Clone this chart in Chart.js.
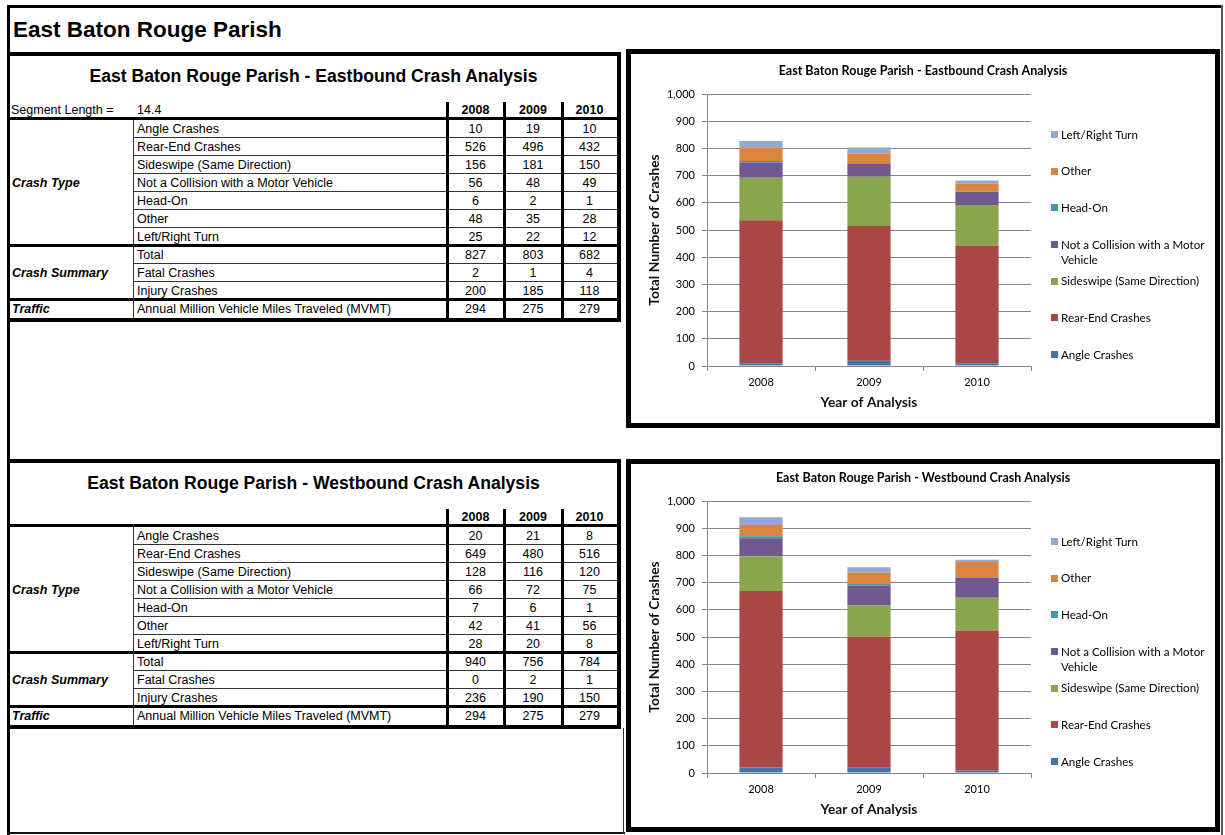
<!DOCTYPE html>
<html>
<head>
<meta charset="utf-8">
<title>East Baton Rouge Parish</title>
<script src="https://cdn.jsdelivr.net/npm/chart.js@4.4.1/dist/chart.umd.min.js"></script>
<style>
  html, body { margin: 0; padding: 0; }
  body {
    width: 1225px; height: 835px; position: relative; overflow: hidden;
    background: #fff; color: #000;
    font-family: "Liberation Sans", Arial, sans-serif; font-size: 12.5px;
  }
  .abs { position: absolute; white-space: nowrap; }
  canvas { position: absolute; }
</style>
</head>
<body>
<canvas id="ebChart" width="584" height="369" style="left:631px;top:54px"></canvas>
<canvas id="wbChart" width="584" height="369" style="left:631px;top:461px"></canvas>
<script>
const years = ['2008', '2009', '2010'];
const crashTypes = ['Angle Crashes', 'Rear-End Crashes', 'Sideswipe (Same Direction)',
  'Not a Collision with a Motor Vehicle', 'Head-On', 'Other', 'Left/Right Turn'];
const tableTypeLabels = ['Angle Crashes', 'Rear-End Crashes', 'Sideswipe (Same Direction)',
  'Not a Collision with a Motor Vehicle', 'Head-On', 'Other', 'Left/Right Turn'];
const summaryLabels = ['Total', 'Fatal Crashes', 'Injury Crashes'];
const trafficLabel = 'Annual Million Vehicle Miles Traveled (MVMT)';
const segmentLength = '14.4';
const typeColors = ['#4572A7', '#AA4643', '#89A54E', '#71588F', '#4198AF', '#DB843D', '#93A9CF'];
const yMax = 1000;
const yStep = 100;

// Eastbound
const ebAngle = [10, 19, 10];
const ebRearEnd = [526, 496, 432];
const ebSideswipe = [156, 181, 150];
const ebNotCollision = [56, 48, 49];
const ebHeadOn = [6, 2, 1];
const ebOther = [48, 35, 28];
const ebTurn = [25, 22, 12];
const ebTotal = [827, 803, 682];
const ebFatal = [2, 1, 4];
const ebInjury = [200, 185, 118];
const ebMvmt = [294, 275, 279];

// Westbound
const wbAngle = [20, 21, 8];
const wbRearEnd = [649, 480, 516];
const wbSideswipe = [128, 116, 120];
const wbNotCollision = [66, 72, 75];
const wbHeadOn = [7, 6, 1];
const wbOther = [42, 41, 56];
const wbTurn = [28, 20, 8];
const wbTotal = [940, 756, 784];
const wbFatal = [0, 2, 1];
const wbInjury = [236, 190, 150];
const wbMvmt = [294, 275, 279];

const ebTypes = [ebAngle, ebRearEnd, ebSideswipe, ebNotCollision, ebHeadOn, ebOther, ebTurn];
const wbTypes = [wbAngle, wbRearEnd, wbSideswipe, wbNotCollision, wbHeadOn, wbOther, wbTurn];

const px = v => v + 'px';

function addDiv(styles, text) {
  const d = document.createElement('div');
  d.className = 'abs';
  Object.assign(d.style, styles);
  if (text !== undefined) d.textContent = text;
  document.body.appendChild(d);
  return d;
}

// page frame + title
addDiv({ left: '7px', top: '5px', width: '1216px', height: '3px', background: '#000' });
addDiv({ left: '7px', top: '5px', width: '3px', height: '830px', background: '#000' });
addDiv({ left: '1221px', top: '5px', width: '2px', height: '830px', background: '#555' });
addDiv({ left: '7px', top: '832px', width: '618px', height: '2px', background: '#111' });
addDiv({ left: '623px', top: '728px', width: '1px', height: '106px', background: '#333' });
addDiv({ left: '13px', top: '17px', lineHeight: '26px', font: 'bold 22.5px "Liberation Sans", Arial, sans-serif' },
  'East Baton Rouge Parish');

// chart frames
addDiv({ left: '626px', top: '49px', width: '594px', height: '379px', border: '5px solid #000', boxSizing: 'border-box' });
addDiv({ left: '626px', top: '459px', width: '594px', height: '373px', border: '5px solid #000', boxSizing: 'border-box' });

function buildTable(top, title, segment, typeVals, summaryVals, mvmt) {
  const cols = [10, 133, 447, 504, 562, 617];
  const rowH = 18;
  const bodyTop = top + 68;
  const bottom = bodyTop + 11 * rowH;

  addDiv({ left: '7px', top: px(top), width: '614px', height: px(bottom + 4 - top),
    borderStyle: 'solid', borderColor: '#000', borderWidth: '4px 4px 4px 3px', boxSizing: 'border-box' });
  addDiv({ left: '10px', width: '607px', top: px(top + 14), lineHeight: '22px', textAlign: 'center',
    font: 'bold 17.6px "Liberation Sans", Arial, sans-serif' }, title);

  // header
  if (segment) {
    addDiv({ left: '11px', top: px(top + 50), lineHeight: '16px' }, 'Segment Length =');
    addDiv({ left: '137px', top: px(top + 50), lineHeight: '16px' }, segment);
  }
  years.forEach((y, j) => {
    addDiv({ left: px(cols[2 + j]), width: px(cols[3 + j] - cols[2 + j]), top: px(top + 50),
      lineHeight: '16px', textAlign: 'center', fontWeight: 'bold' }, y);
  });
  addDiv({ left: '10px', width: '607px', top: px(bodyTop - 3), height: '3px', background: '#000' });

  const rows = tableTypeLabels.map((t, i) => [t, typeVals[i]])
    .concat(summaryLabels.map((t, i) => [t, summaryVals[i]]))
    .concat([[trafficLabel, mvmt]]);

  rows.forEach((r, i) => {
    const y = bodyTop + i * rowH;
    addDiv({ left: '137px', top: px(y), lineHeight: px(rowH) }, r[0]);
    r[1].forEach((v, j) => {
      addDiv({ left: px(cols[2 + j]), width: px(cols[3 + j] - cols[2 + j]), top: px(y),
        lineHeight: px(rowH), textAlign: 'center' }, String(v));
    });
    if (i === 6 || i === 9) {
      addDiv({ left: '10px', width: '607px', top: px(y + rowH - 2), height: '3px', background: '#000' });
    } else if (i < 10) {
      addDiv({ left: '133px', width: '484px', top: px(y + rowH - 1), height: '1px', background: '#333' });
    }
  });

  addDiv({ left: '133px', width: '1px', top: px(bodyTop), height: px(bottom - bodyTop), background: '#333' });
  [2, 3, 4].forEach(c => {
    addDiv({ left: px(cols[c] - 1), width: '3px', top: px(top + 50), height: px(bottom - top - 50), background: '#000' });
  });

  const groups = [['Crash Type', 0, 7], ['Crash Summary', 7, 3], ['Traffic', 10, 1]];
  groups.forEach(g => {
    const cy = bodyTop + (g[1] + g[2] / 2) * rowH;
    addDiv({ left: '12px', top: px(cy - 9), lineHeight: '18px', fontWeight: 'bold', fontStyle: 'italic' }, g[0]);
  });
}

buildTable(52, 'East Baton Rouge Parish - Eastbound Crash Analysis', segmentLength,
  ebTypes, [ebTotal, ebFatal, ebInjury], ebMvmt);
buildTable(459, 'East Baton Rouge Parish - Westbound Crash Analysis', null,
  wbTypes, [wbTotal, wbFatal, wbInjury], wbMvmt);

// title + wrapped legend drawn on the canvas
const overlayPlugin = {
  id: 'overlay',
  afterDraw(chart, args, opts) {
    const { ctx, chartArea } = chart;
    ctx.save();
    ctx.fillStyle = '#000';
    ctx.font = 'bold 12.5px Lato';
    ctx.textAlign = 'center';
    ctx.textBaseline = 'middle';
    ctx.fillText(opts.title, chart.width / 2, 17);

    const items = chart.data.datasets.map(d => ({ label: d.label, color: d.backgroundColor })).reverse();
    const x0 = chartArea.right + 20;
    const first = chartArea.top + 41;
    const gap = (chartArea.bottom - 11 - first) / (items.length - 1);
    const maxW = chart.width - x0 - 10;
    ctx.font = '11.6px Lato';
    ctx.textAlign = 'left';
    items.forEach((it, k) => {
      const y = first + k * gap;
      ctx.fillStyle = it.color;
      ctx.fillRect(x0, Math.round(y - 4), 7, 7);
      ctx.fillStyle = '#000';
      const words = it.label.split(' ');
      const lines = [];
      let line = '';
      words.forEach(w => {
        const test = line ? line + ' ' + w : w;
        if (line && ctx.measureText(test).width > maxW) { lines.push(line); line = w; }
        else line = test;
      });
      lines.push(line);
      lines.forEach((ln, j) => ctx.fillText(ln, x0 + 10, y + j * 15));
    });
    ctx.restore();
  }
};

function makeChart(id, title, series) {
  const datasets = crashTypes.map((name, i) => ({
    label: name,
    data: series[i],
    backgroundColor: typeColors[i],
    borderWidth: 0,
    barPercentage: 0.4,
    categoryPercentage: 1
  }));
  const tickFont = { family: 'Lato', size: 11 };
  const titleFont = { family: 'Lato', size: 13.8, weight: 'bold' };
  return new Chart(document.getElementById(id), {
    type: 'bar',
    data: { labels: years, datasets: datasets },
    options: {
      responsive: false,
      animation: false,
      devicePixelRatio: 1,
      layout: { padding: { top: 40, right: 184, bottom: 0, left: 0 } },
      plugins: {
        legend: { display: false },
        title: { display: false },
        tooltip: { enabled: false },
        overlay: { title: title }
      },
      scales: {
        x: {
          stacked: true,
          afterFit: s => { s.height = 57; },
          grid: { drawOnChartArea: false, drawTicks: true, tickLength: 5, color: '#868686' },
          border: { color: '#868686' },
          ticks: { padding: 5, color: '#000', font: tickFont },
          title: { display: true, text: 'Year of Analysis', color: '#111', font: titleFont,
            padding: { top: 0, bottom: 12 } }
        },
        y: {
          stacked: true,
          min: 0,
          max: yMax,
          afterFit: s => { s.width = 76; },
          grid: { color: '#868686', tickLength: 5 },
          border: { color: '#868686' },
          ticks: { stepSize: yStep, padding: 7, color: '#000', font: tickFont,
            callback: v => v.toLocaleString('en-US') },
          title: { display: true, text: 'Total Number of Crashes', color: '#111', font: titleFont,
            padding: { top: 15, bottom: 0 } }
        }
      }
    },
    plugins: [overlayPlugin]
  });
}

makeChart('ebChart', 'East Baton Rouge Parish - Eastbound Crash Analysis', ebTypes);
makeChart('wbChart', 'East Baton Rouge Parish - Westbound Crash Analysis', wbTypes);
</script>
</body>
</html>
